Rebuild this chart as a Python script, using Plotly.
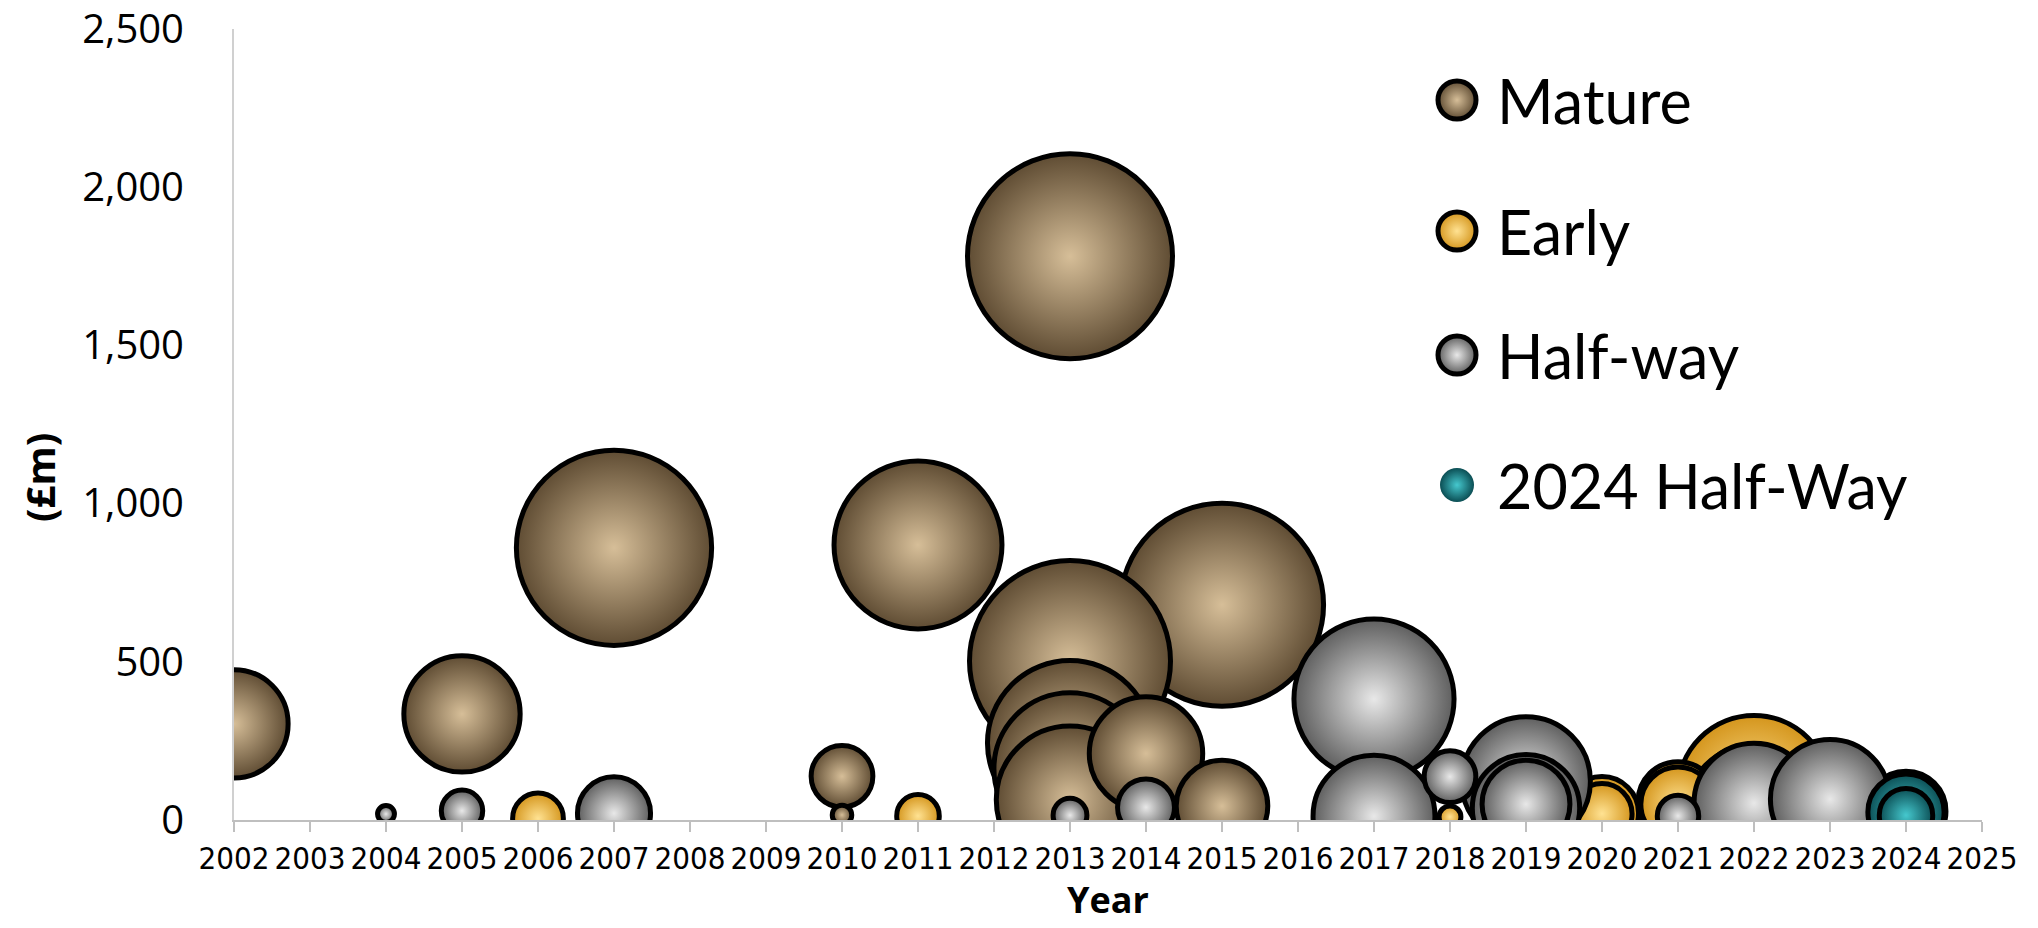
import plotly.graph_objects as go

# ---- data -------------------------------------------------------------
# Mature schemes
mature_year = [2002, 2005, 2007, 2010, 2010, 2011, 2013, 2013, 2013, 2013, 2013, 2014, 2015, 2015]
mature_value = [304, 335, 860, 138, 16, 869, 1781, 502, 243, 162, 64, 210, 680, 44]
mature_size = [123, 142, 400, 40, 4, 296, 441, 424, 286, 243, 228, 135, 433, 88]

# Early-stage schemes
early_year = [2006, 2011, 2018, 2020, 2020, 2021, 2021, 2022, 2022, 2024]
early_value = [5, 13, 10, 22, 20, 58, 50, 90, 21, 28]
early_size = [27, 19, 5, 56, 38, 67, 58, 243, 196, 67]

# Half-way schemes
half_year = [2004, 2005, 2007, 2013, 2014, 2017, 2017, 2018, 2019, 2019, 2019, 2021, 2022, 2023]
half_value = [19, 29, 21, 15, 40, 382, 12, 137, 123, 37, 50, 13, 53, 66]
half_size = [3, 18, 56, 12, 34, 269, 156, 28, 174, 121, 81, 18, 151, 149]

# 2024 half-way review
hw24_year = [2024, 2024]
hw24_value = [25, 15]
hw24_size = [61, 30]

series_names = ["Mature", "Early", "Half-way", "2024 Half-Way"]
year_ticks = list(range(2002, 2026))

# ---- styling ----------------------------------------------------------
W, H = 2038, 928
PLOT_L, PLOT_R, PLOT_T, PLOT_B = 234, 1982, 28.6, 820
MAX_DIAM = 205
LINE_W = 5

# body = rim colour of the sphere, shine = centre highlight
styles = {
    "Mature": dict(body="#5F4C33", shine="#D6BE98"),
    "Early": dict(body="#D4951C", shine="#FFE292"),
    "Half-way": dict(body="#5E5E5E", shine="#E8E8E8"),
    "2024 Half-Way": dict(body="#0B4E54", shine="#45C8CE"),
}

all_sizes = mature_size + early_size + half_size + hw24_size
sizeref = 2.0 * max(all_sizes) / (MAX_DIAM ** 2)

series = [
    ("Mature", mature_year, mature_value, mature_size),
    ("Early", early_year, early_value, early_size),
    ("Half-way", half_year, half_value, half_size),
    ("2024 Half-Way", hw24_year, hw24_value, hw24_size),
]

fig = go.Figure()

for name, xs, ys, ss in series:
    # draw larger bubbles first so smaller ones stay visible on top
    order = sorted(range(len(ss)), key=lambda i: -ss[i])
    st = styles[name]
    fig.add_trace(go.Scatter(
        x=[xs[i] for i in order],
        y=[ys[i] for i in order],
        mode="markers",
        name=name,
        showlegend=False,
        cliponaxis=True,
        marker=dict(
            size=[ss[i] for i in order],
            sizemode="area",
            sizeref=sizeref,
            color=st["body"],
            gradient=dict(type="radial", color=st["shine"]),
            line=dict(color="#000000", width=LINE_W),
            opacity=1,
        ),
        hoverinfo="x+y+name",
    ))

# ---- legend drawn on a pixel-space overlay ----------------------------
legend_x = 1457
legend_text_x = 1495
legend_rows = [100, 231, 355, 485]
for name, ly in zip(series_names, legend_rows):
    st = styles[name]
    outlined = name != "2024 Half-Way"
    fig.add_trace(go.Scatter(
        x=[legend_x], y=[ly], xaxis="x2", yaxis="y2",
        mode="markers", showlegend=False, hoverinfo="skip",
        marker=dict(
            size=38 if outlined else 34,
            color=st["body"],
            gradient=dict(type="radial", color=st["shine"]),
            line=dict(color="#000000", width=5 if outlined else 0),
        ),
    ))
    fig.add_annotation(
        x=legend_text_x, y=ly, xref="x2", yref="y2",
        text=name, showarrow=False, xanchor="left", yanchor="middle",
        font=dict(family="Lato, Open Sans, sans-serif", size=61, color="#000000"),
    )

# axis titles
fig.add_annotation(
    x=39 / W, y=1 - 478 / H, xref="paper", yref="paper",
    text="<b>(£m)</b>", textangle=-90, showarrow=False,
    xanchor="center", yanchor="middle",
    font=dict(family="Open Sans, sans-serif", size=40, color="#000000"),
)
fig.add_annotation(
    x=(PLOT_L + PLOT_R) / 2 / W, y=1 - 899 / H, xref="paper", yref="paper",
    text="<b>Year</b>", showarrow=False, xanchor="center", yanchor="middle",
    font=dict(family="Open Sans, sans-serif", size=36, color="#000000"),
)

fig.update_layout(
    width=W, height=H,
    margin=dict(l=0, r=0, t=0, b=0),
    paper_bgcolor="#FFFFFF",
    plot_bgcolor="rgba(0,0,0,0)",
    showlegend=False,
    xaxis=dict(
        domain=[PLOT_L / W, PLOT_R / W],
        range=[2002, 2025],
        tickmode="array", tickvals=year_ticks, ticktext=[str(y) for y in year_ticks],
        showgrid=False, zeroline=False,
        showline=True, linecolor="#BFBFBF", linewidth=2,
        ticks="outside", ticklen=10, tickwidth=2, tickcolor="#BFBFBF",
        tickfont=dict(family="Liberation Sans Narrow, DejaVu Sans Condensed, sans-serif", size=31, color="#000000"),
        ticklabeloverflow="allow",
        automargin=False,
    ),
    yaxis=dict(
        domain=[1 - PLOT_B / H, 1 - PLOT_T / H],
        range=[0, 2500],
        tickmode="linear", tick0=0, dtick=500, tickformat=",",
        showgrid=False, zeroline=False,
        showline=True, linecolor="#D0D0D0", linewidth=2,
        ticks="", ticklabelstandoff=40,
        tickfont=dict(family="Open Sans, sans-serif", size=40, color="#000000"),
        ticklabeloverflow="allow",
        automargin=False,
    ),
    xaxis2=dict(domain=[0, 1], range=[0, W], visible=False, fixedrange=True, anchor="y2"),
    yaxis2=dict(domain=[0, 1], range=[H, 0], visible=False, fixedrange=True, anchor="x2"),
)

fig.write_html("out.html")
